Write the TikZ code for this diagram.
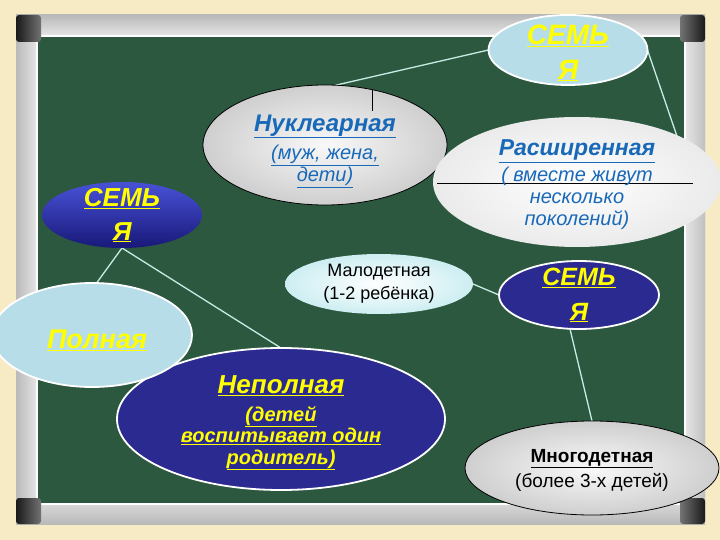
\documentclass[tikz,border=0pt]{standalone}
\usepackage{fontspec}
\setmainfont{Liberation Sans}
\usetikzlibrary{shapes.geometric}
\definecolor{bgbeige}{RGB}{246,235,196}
\definecolor{board}{RGB}{44,88,64}
\definecolor{lblue}{RGB}{183,221,232}
\definecolor{dblue}{RGB}{42,42,145}
\definecolor{ylw}{RGB}{255,255,0}
\definecolor{tblue}{RGB}{25,105,185}
\definecolor{conn}{RGB}{200,235,228}
\pgfdeclarelayer{bg}
\pgfdeclarelayer{cn}
\pgfsetlayers{bg,cn,main}
\begin{document}
\begin{tikzpicture}[x=1pt,y=-1pt,
  ell/.style={ellipse, inner sep=0pt, outer sep=0pt},
  lightell/.style={ell, fill=lblue, draw=white, line width=1.8pt},
  darkell/.style={ell, fill=dblue, draw=white, line width=1.8pt},
  grayell/.style={ell, inner color=gray!5, outer color=gray!38, draw=black, line width=0.8pt},
  tx/.style={align=center, inner sep=0pt},
  ytx/.style={tx, text=ylw},
  link/.style={draw=conn, line width=1.3pt},
  artline/.style={draw=black, line width=0.8pt}]
\useasboundingbox (0,0) rectangle (720,540);

% ---------- ellipses ----------
\node[lightell, minimum width=159pt, minimum height=70pt] (topfam) at (568,50) {};
\node[grayell, minimum width=244pt, minimum height=120pt] (nuk) at (325,145) {};
\node[ell, inner color=white, outer color=gray!16, minimum width=288pt, minimum height=130pt] (rasch) at (577,182) {};
\node[ell, top color={rgb,255:red,72;green,82;blue,215}, bottom color={rgb,255:red,24;green,24;blue,120}, minimum width=160pt, minimum height=66pt] (lfam) at (122,215) {};
\node[ell, inner color=white, outer color={rgb,255:red,205;green,238;blue,242}, minimum width=188pt, minimum height=60pt] (mal) at (379,284) {};
\node[darkell, minimum width=160pt, minimum height=68pt] (rfam) at (579,295) {};
\node[darkell, minimum width=328pt, minimum height=142pt] (nepol) at (281,419) {};
\node[lightell, minimum width=200pt, minimum height=104pt] (pol) at (92,335) {};
\node[grayell, minimum width=254pt, minimum height=94pt] (mng) at (592,468) {};

% ---------- helper coordinates ----------
\coordinate (rj) at (693,183);
\coordinate (ri) at (437,183);
\coordinate (nj) at (372,89);
\coordinate (nk) at (372,111);

% ---------- board ----------
\begin{pgfonlayer}{bg}
  \fill[bgbeige] (0,0) rectangle (720,540);
  \fill[gray!45, rounded corners=3pt] (16,15) rectangle (705,524);
  \shade[top color=gray!55, bottom color=gray!18] (16,15) rectangle (705,37);
  \shade[top color=gray!30, bottom color=gray!55] (16,503) rectangle (705,524);
  \shade[left color=gray!55, right color=gray!18] (16,37) rectangle (38,503);
  \shade[left color=gray!18, right color=gray!50] (684,37) rectangle (705,503);
  \draw[white, line width=1.6pt] (37,36) rectangle (685,504);
  \fill[board] (38,37) rectangle (684,503);
  \shade[left color=black!90, right color=black!55, rounded corners=3pt] (16,15) rectangle (41,42);
  \shade[left color=black!55, right color=black!90, rounded corners=3pt] (680,15) rectangle (705,42);
  \shade[left color=black!90, right color=black!55, rounded corners=3pt] (16,498) rectangle (41,524);
  \shade[left color=black!55, right color=black!90, rounded corners=3pt] (680,498) rectangle (705,524);
\end{pgfonlayer}

% ---------- connectors ----------
\begin{pgfonlayer}{cn}
  \draw[link] (topfam.west) -- (nuk.80);
  \draw[link] (topfam.east) -- (rj);
  \draw[link] (lfam.south) -- (pol.85);
  \draw[link] (lfam.south) -- (nepol.north);
  \draw[link] (mal.east) -- (rfam.west);
  \draw[link] (rfam.255) -- (mng.north);
\end{pgfonlayer}

\draw[artline] (nj) -- (nk);
\draw[artline] (ri) -- (rj);

% ---------- texts ----------
\node[ytx, font=\bfseries\itshape\fontsize{28pt}{35pt}\selectfont] (topfamt) at (568,53) {\underline{СЕМЬ}\\\underline{Я}};
\node[tx, text=tblue, font=\itshape\fontsize{20pt}{22pt}\selectfont] (nukt) at (325,151)
  {{\bfseries\fontsize{24pt}{26pt}\selectfont\underline{Нуклеарная}}\\[6pt]\underline{(муж, жена,}\\\underline{дети)}};
\node[tx, text=tblue, font=\itshape\fontsize{20pt}{22pt}\selectfont] (rascht) at (577,185)
  {{\bfseries\fontsize{23pt}{25pt}\selectfont\underline{Расширенная}}\\[4pt]( вместе живут\\несколько\\поколений)};
\node[ytx, font=\bfseries\itshape\fontsize{26pt}{34pt}\selectfont] (lfamt) at (122,215) {\underline{СЕМЬ}\\\underline{Я}};
\node[ytx, font=\bfseries\itshape\fontsize{27pt}{30pt}\selectfont] (polt) at (97,340) {\underline{Полная}};
\node[tx, text=black, font=\fontsize{18pt}{23pt}\selectfont] (malt) at (379,284) {Малодетная\\(1-2 ребёнка)};
\node[ytx, font=\bfseries\itshape\fontsize{25pt}{35pt}\selectfont] (rfamt) at (579,295) {\underline{СЕМЬ}\\\underline{Я}};
\node[ytx, font=\bfseries\itshape\fontsize{20pt}{21.5pt}\selectfont] (nepolt) at (281,423)
  {{\fontsize{26pt}{28pt}\selectfont\underline{Неполная}}\\[6pt]\underline{(детей}\\\underline{воспитывает один}\\\underline{родитель)}};
\node[tx, text=black, font=\fontsize{19pt}{25pt}\selectfont] (mngt) at (592,470) {\textbf{\underline{Многодетная}}\\(более 3-х детей)};
\end{tikzpicture}
\end{document}
